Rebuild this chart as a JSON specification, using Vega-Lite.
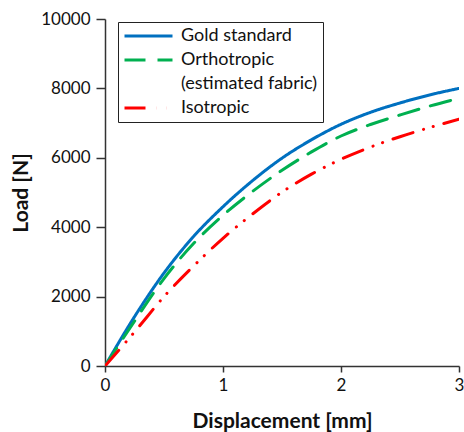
{
  "$schema": "https://vega.github.io/schema/vega-lite/v6.json",
  "autosize": "none",
  "width": 354,
  "height": 347,
  "padding": {"left": 105, "top": 19, "right": 5, "bottom": 66},
  "background": "white",
  "config": {
    "view": {"stroke": null},
    "font": "Lato",
    "axis": {"grid": false, "domainColor": "#333333", "tickColor": "#333333", "domainWidth": 1.5, "tickWidth": 1.5, "labelColor": "#111111", "titleColor": "#111111", "labelFont": "Lato", "titleFont": "Lato"}
  },
  "data": {
    "values": [
      {"x": 0, "load": 0, "series": "Gold standard"},
      {"x": 0.25, "load": 1420, "series": "Gold standard"},
      {"x": 0.5, "load": 2680, "series": "Gold standard"},
      {"x": 0.75, "load": 3730, "series": "Gold standard"},
      {"x": 1.0, "load": 4590, "series": "Gold standard"},
      {"x": 1.25, "load": 5340, "series": "Gold standard"},
      {"x": 1.5, "load": 5990, "series": "Gold standard"},
      {"x": 1.75, "load": 6520, "series": "Gold standard"},
      {"x": 2.0, "load": 6965, "series": "Gold standard"},
      {"x": 2.25, "load": 7310, "series": "Gold standard"},
      {"x": 2.5, "load": 7580, "series": "Gold standard"},
      {"x": 2.75, "load": 7810, "series": "Gold standard"},
      {"x": 3.0, "load": 8000, "series": "Gold standard"},
      {"x": 0, "load": 0, "series": "Orthotropic"},
      {"x": 0.25, "load": 1290, "series": "Orthotropic"},
      {"x": 0.5, "load": 2520, "series": "Orthotropic"},
      {"x": 0.75, "load": 3530, "series": "Orthotropic"},
      {"x": 1.0, "load": 4343, "series": "Orthotropic"},
      {"x": 1.25, "load": 5030, "series": "Orthotropic"},
      {"x": 1.5, "load": 5640, "series": "Orthotropic"},
      {"x": 1.75, "load": 6170, "series": "Orthotropic"},
      {"x": 2.0, "load": 6628, "series": "Orthotropic"},
      {"x": 2.25, "load": 6960, "series": "Orthotropic"},
      {"x": 2.5, "load": 7233, "series": "Orthotropic"},
      {"x": 2.75, "load": 7490, "series": "Orthotropic"},
      {"x": 3.0, "load": 7715, "series": "Orthotropic"},
      {"x": 0, "load": 0, "series": "Isotropic"},
      {"x": 0.25, "load": 980, "series": "Isotropic"},
      {"x": 0.5, "load": 2000, "series": "Isotropic"},
      {"x": 0.75, "load": 2880, "series": "Isotropic"},
      {"x": 1.0, "load": 3680, "series": "Isotropic"},
      {"x": 1.25, "load": 4380, "series": "Isotropic"},
      {"x": 1.5, "load": 5010, "series": "Isotropic"},
      {"x": 1.75, "load": 5530, "series": "Isotropic"},
      {"x": 2.0, "load": 5957, "series": "Isotropic"},
      {"x": 2.25, "load": 6310, "series": "Isotropic"},
      {"x": 2.5, "load": 6608, "series": "Isotropic"},
      {"x": 2.75, "load": 6870, "series": "Isotropic"},
      {"x": 3.0, "load": 7110, "series": "Isotropic"}
    ]
  },
  "mark": {"type": "line", "strokeWidth": 3, "strokeCap": "round", "interpolate": "monotone", "clip": true},
  "encoding": {
    "x": {
      "field": "x", "type": "quantitative",
      "scale": {"domain": [0, 3], "nice": false},
      "axis": {"title": "Displacement [mm]", "values": [0, 1, 2, 3], "tickSize": 6, "labelFontSize": 17, "labelPadding": 5, "titleFontSize": 21, "titleFontWeight": "bold", "titlePadding": 17, "labelFlush": false}
    },
    "y": {
      "field": "load", "type": "quantitative",
      "scale": {"domain": [0, 10000], "nice": false},
      "axis": {"title": "Load [N]", "values": [0, 2000, 4000, 6000, 8000, 10000], "format": "d", "tickSize": 9, "labelFontSize": 17, "labelPadding": 6, "titleFontSize": 21, "titleFontWeight": "bold", "titlePadding": 9}
    },
    "color": {
      "field": "series", "type": "nominal",
      "scale": {"domain": ["Gold standard", "Orthotropic", "(estimated fabric)", "Isotropic"], "range": ["#0070C0", "#00B050", "transparent", "#FF0000"]},
      "legend": {"orient": "none", "legendX": 13, "legendY": 3, "title": null, "strokeColor": "#222222", "fillColor": "white", "padding": 5, "symbolType": "stroke", "symbolSize": 2304, "symbolStrokeWidth": 3, "clipHeight": 18, "labelFontSize": 18, "labelFont": "Lato", "labelColor": "#111111", "labelOffset": 7, "rowPadding": 6, "labelLimit": 300}
    },
    "strokeDash": {
      "field": "series", "type": "nominal",
      "scale": {"domain": ["Gold standard", "Orthotropic", "(estimated fabric)", "Isotropic"], "range": [[1, 0], [21, 12], [1, 0], [21, 11, 0.1, 10, 0.1, 11]]},
      "legend": {"orient": "none", "legendX": 13, "legendY": 3, "title": null, "strokeColor": "#222222", "fillColor": "white", "padding": 5, "symbolType": "stroke", "symbolSize": 2304, "symbolStrokeWidth": 3, "clipHeight": 18, "labelFontSize": 18, "labelFont": "Lato", "labelColor": "#111111", "labelOffset": 7, "rowPadding": 6, "labelLimit": 300}
    },
    "order": {"field": "x", "type": "quantitative"}
  }
}
